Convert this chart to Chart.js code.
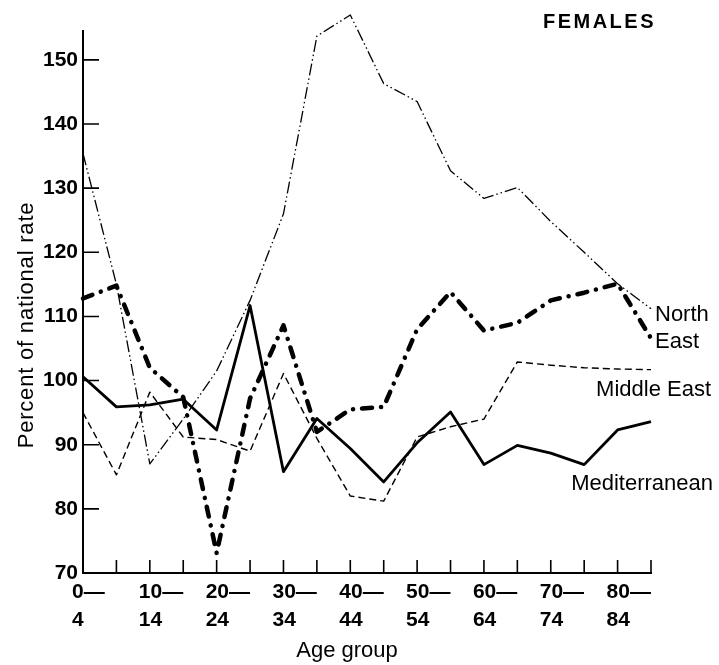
<!DOCTYPE html>
<html>
<head>
<meta charset="utf-8">
<script src="https://cdn.jsdelivr.net/npm/chart.js@4"></script>
<style>
  html, body { margin: 0; padding: 0; background: #fff; }
  #wrap { width: 719px; height: 665px; }
</style>
</head>
<body>
<div id="wrap"><canvas id="femalesChart"></canvas></div>
<script>
// Age groups on the x axis (every other one is labelled)
const ageGroups = ["0–4", "5–9", "10–14", "15–19", "20–24", "25–29", "30–34", "35–39", "40–44",
  "45–49", "50–54", "55–59", "60–64", "65–69", "70–74", "75–79", "80–84", "85+"];
const tickLabels = [["0—", "4"], "", ["10—", "14"], "", ["20—", "24"], "", ["30—", "34"], "",
  ["40—", "44"], "", ["50—", "54"], "", ["60—", "64"], "", ["70—", "74"], "", ["80—", "84"], ""];

// Percent of national rate
const north = [135.4, 115, 87, 94, 101.5, 112.5, 126, 153.7, 157, 146.3, 143.5, 132.7, 128.4, 130.1, 124.8, 120, 115.1, 111.2];
const northEast = [112.8, 114.8, 102, 97.4, 73.1, 97.2, 108.6, 92, 95.5, 95.9, 108, 113.8, 107.8, 109, 112.5, 113.7, 115.1, 106.6];
const middleEast = [95, 85.3, 98.2, 91.2, 90.8, 89, 101.1, 91, 82, 81.2, 91.2, 92.8, 94, 102.9, 102.4, 102, 101.8, 101.7];
const mediterranean = [100.6, 95.9, 96.2, 97.1, 92.3, 111.7, 85.8, 94.1, 89.4, 84.2, 90.3, 95.1, 86.9, 89.9, 88.7, 86.9, 92.3, 93.6];

const FONT = "'Liberation Sans', Arial, sans-serif";

// Tick marks drawn inwards from the axes
const innerTicks = {
  id: "innerTicks",
  beforeDatasetsDraw(chart) {
    const { ctx, scales: { x, y } } = chart;
    ctx.save();
    ctx.strokeStyle = "#000";
    ctx.lineWidth = 1.6;
    ctx.beginPath();
    x.ticks.forEach((t, i) => {
      if (i === 0) return;
      const px = x.getPixelForTick(i);
      ctx.moveTo(px, y.bottom);
      ctx.lineTo(px, y.bottom - 13);
    });
    y.ticks.forEach((t) => {
      if (t.value === y.min) return;
      const py = y.getPixelForValue(t.value);
      ctx.moveTo(x.left, py);
      ctx.lineTo(x.left + 16, py);
    });
    ctx.stroke();
    ctx.restore();
  },
};

// Titles and line labels
const annotations = {
  id: "annotations",
  afterDraw(chart) {
    const { ctx, scales: { x, y } } = chart;
    const last = ageGroups.length - 1;
    const lastX = x.getPixelForValue(last);
    ctx.save();
    ctx.fillStyle = "#000";
    ctx.textBaseline = "alphabetic";

    ctx.font = "bold 20px " + FONT;
    ctx.letterSpacing = "2.5px";
    ctx.textAlign = "right";
    ctx.fillText("FEMALES", x.right + 5, 28);

    ctx.letterSpacing = "0px";
    ctx.font = "22px " + FONT;
    ctx.textAlign = "left";
    ctx.fillText("North", lastX + 4, y.getPixelForValue(north[last]) + 12);
    ctx.fillText("East", lastX + 4, y.getPixelForValue(northEast[last]) + 10);
    ctx.textAlign = "right";
    ctx.fillText("Middle East", lastX + 60, y.getPixelForValue(middleEast[last]) + 26);
    ctx.fillText("Mediterranean", lastX + 62, y.getPixelForValue(mediterranean[last]) + 68);

    ctx.textAlign = "center";
    ctx.fillText("Age group", (x.left + x.right) / 2 - 20, 657);

    ctx.translate(33, 325);
    ctx.rotate(-Math.PI / 2);
    ctx.letterSpacing = "0.8px";
    ctx.fillText("Percent of national rate", 0, 0);
    ctx.restore();
  },
};

new Chart(document.getElementById("femalesChart"), {
  type: "line",
  data: {
    labels: ageGroups,
    datasets: [
      {
        label: "North",
        data: north,
        borderColor: "#000",
        borderWidth: 1.3,
        borderDash: [12, 3, 1.5, 3, 1.5, 3],
      },
      {
        label: "North East",
        data: northEast,
        borderColor: "#000",
        borderWidth: 4.5,
        borderCapStyle: "round",
        borderDash: [10, 9, 0.1, 9],
      },
      {
        label: "Middle East",
        data: middleEast,
        borderColor: "#000",
        borderWidth: 1.4,
        borderDash: [7, 4],
      },
      {
        label: "Mediterranean",
        data: mediterranean,
        borderColor: "#000",
        borderWidth: 2.8,
      },
    ],
  },
  options: {
    responsive: true,
    maintainAspectRatio: false,
    animation: false,
    devicePixelRatio: 1,
    layout: { padding: { top: 31, right: 68, bottom: 0, left: 0 } },
    elements: {
      point: { radius: 0 },
      line: { tension: 0, borderJoinStyle: "round", fill: false },
    },
    datasets: { line: { clip: false } },
    plugins: {
      legend: { display: false },
      tooltip: { enabled: false },
    },
    scales: {
      x: {
        type: "category",
        offset: false,
        grid: { display: false, drawTicks: false },
        border: { display: true, color: "#000", width: 2 },
        afterFit(scale) { scale.height = 92; },
        ticks: {
          autoSkip: false,
          maxRotation: 0,
          minRotation: 0,
          align: "start",
          labelOffset: -11,
          padding: 6,
          color: "#000",
          font: { family: FONT, size: 21, weight: "bold", lineHeight: 1.3 },
          callback: (value, index) => tickLabels[index],
        },
      },
      y: {
        min: 70,
        max: 154.5,
        grid: { display: false, drawTicks: false },
        border: { display: true, color: "#000", width: 2 },
        afterFit(scale) { scale.width = 83; },
        afterBuildTicks(scale) {
          scale.ticks = scale.ticks.filter((t) => t.value % 10 === 0);
        },
        ticks: {
          stepSize: 10,
          padding: 5,
          color: "#000",
          font: { family: FONT, size: 21, weight: "bold" },
        },
      },
    },
  },
  plugins: [innerTicks, annotations],
});
</script>
</body>
</html>
